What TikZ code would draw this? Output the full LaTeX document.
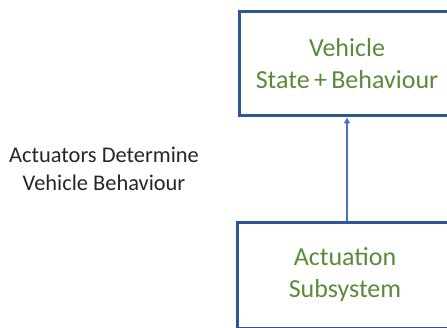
\documentclass[tikz,border=0pt]{standalone}
\usepackage{fontspec}
\setmainfont{Carlito}
\usetikzlibrary{arrows.meta}
\definecolor{boxblue}{HTML}{2F5597}
\definecolor{arrowblue}{HTML}{4472C4}
\definecolor{labelgreen}{HTML}{5A8A3A}
\definecolor{notegray}{HTML}{262626}
\tikzset{
  block/.style={draw=boxblue, line width=3pt, rectangle, minimum width=216pt,
    align=center, text=labelgreen, font=\fontsize{26}{32}\selectfont},
  note/.style={align=center, text=notegray, font=\fontsize{22.4}{28}\selectfont},
  flow/.style={draw=arrowblue, line width=1.5pt, -{Triangle[length=6pt,width=6pt]}}
}
\begin{document}
\begin{tikzpicture}[x=1pt,y=1pt]
  \useasboundingbox (0,0) rectangle (447,327);
  \node[block, minimum height=104pt] (state) at (347,263) {Vehicle\\State\,+\,Behaviour};
  \node[block, minimum height=106pt] (act) at (345,52) {Actuation\\Subsystem};
  \node[note] (note) at (104,158) {Actuators Determine\\Vehicle Behaviour};
  \draw[flow] (act.north -| state.south) -- (state.south);
\end{tikzpicture}
\end{document}
